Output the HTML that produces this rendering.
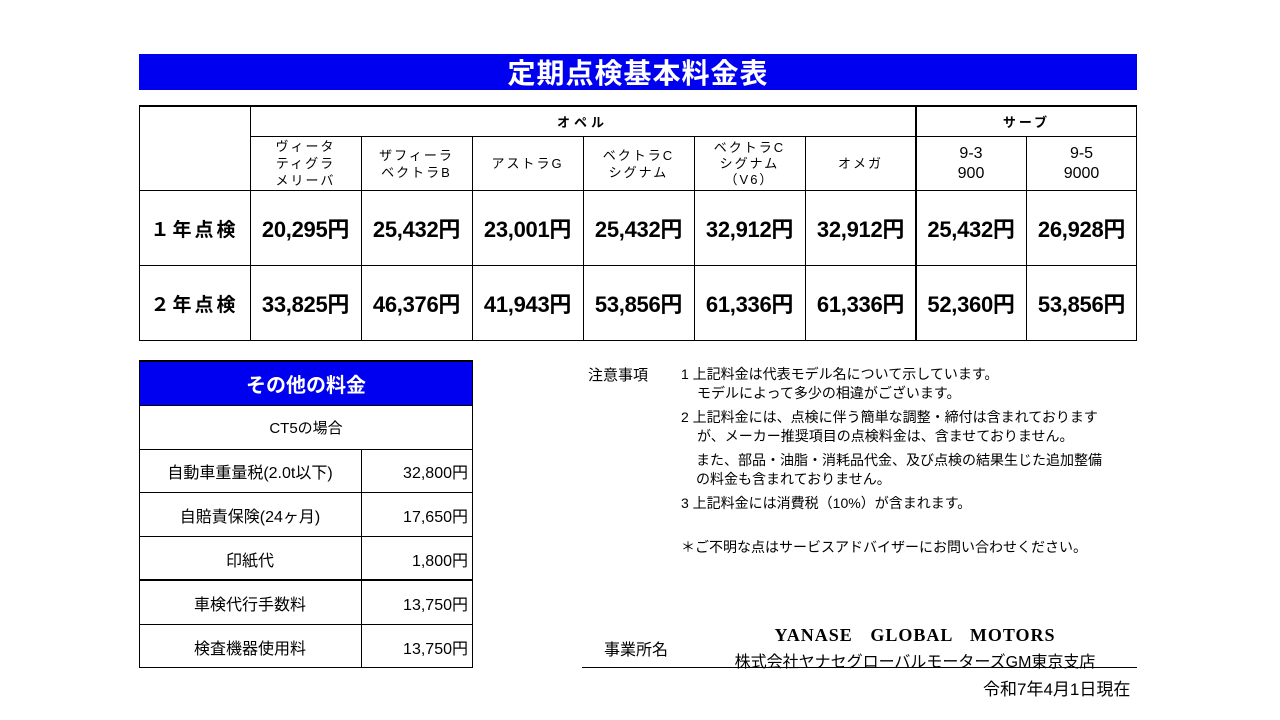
<!DOCTYPE html>
<html><head><meta charset="utf-8"><style>
*{margin:0;padding:0;box-sizing:border-box}
body{width:1280px;height:720px;background:#fff;position:relative;overflow:hidden;font-family:"Liberation Sans","Noto Sans CJK JP",sans-serif;color:#000}
.a{position:absolute}
.c{position:absolute;display:flex;align-items:center;justify-content:center;text-align:center}
.hl{position:absolute;height:1px;background:#000}
.vl{position:absolute;width:1px;background:#000}
.b{font-weight:bold}
.p{font-size:22px;letter-spacing:-0.3px}
.m{font-size:13px;line-height:17px;letter-spacing:2px}
.l{font-size:16px}
</style></head><body>
<div class="c b" style="left:139px;top:54px;width:998px;height:36px;background:#0000f0;color:#fff;font-size:28px;letter-spacing:1px">定期点検基本料金表</div>

<div class="hl" style="left:139px;top:105px;width:998px;height:2px"></div>
<div class="hl" style="left:250px;top:136px;width:887px"></div>
<div class="hl" style="left:139px;top:190px;width:998px"></div>
<div class="hl" style="left:139px;top:265px;width:998px"></div>
<div class="hl" style="left:139px;top:340px;width:998px"></div>
<div class="vl" style="left:139px;top:105px;height:236px"></div>
<div class="vl" style="left:250px;top:105px;height:236px"></div>
<div class="vl" style="left:1136px;top:105px;height:236px"></div>
<div class="vl" style="left:915px;top:105px;height:236px;width:2px"></div>
<div class="vl" style="left:361px;top:136px;height:205px"></div>
<div class="vl" style="left:472px;top:136px;height:205px"></div>
<div class="vl" style="left:583px;top:136px;height:205px"></div>
<div class="vl" style="left:694px;top:136px;height:205px"></div>
<div class="vl" style="left:805px;top:136px;height:205px"></div>
<div class="vl" style="left:1026px;top:136px;height:205px"></div>

<div class="c b" style="left:250px;top:106px;width:665px;height:30px;font-size:13px;letter-spacing:4px">オペル</div>
<div class="c b" style="left:916px;top:106px;width:221px;height:30px;font-size:13px;letter-spacing:3px">サーブ</div>

<div class="c m" style="left:250px;top:137px;width:111px;height:53px">ヴィータ<br>ティグラ<br>メリーバ</div>
<div class="c m" style="left:361px;top:137px;width:111px;height:53px">ザフィーラ<br>ベクトラB</div>
<div class="c m" style="left:472px;top:137px;width:111px;height:53px">アストラG</div>
<div class="c m" style="left:583px;top:137px;width:111px;height:53px">ベクトラC<br>シグナム</div>
<div class="c m" style="left:694px;top:137px;width:111px;height:53px;line-height:16px">ベクトラC<br>シグナム<br>（V6）</div>
<div class="c m" style="left:805px;top:137px;width:111px;height:53px">オメガ</div>
<div class="c" style="left:916px;top:137px;width:110px;height:53px;font-size:16px;line-height:20px">9-3<br>900</div>
<div class="c" style="left:1026px;top:137px;width:111px;height:53px;font-size:16px;line-height:20px">9-5<br>9000</div>

<div class="c b" style="left:139px;top:191px;width:111px;height:74px;font-size:19px;letter-spacing:3px">１年点検</div>
<div class="c b" style="left:139px;top:266px;width:111px;height:74px;font-size:19px;letter-spacing:3px">２年点検</div>

<div class="c b p" style="left:250px;top:191px;width:111px;height:74px">20,295円</div>
<div class="c b p" style="left:361px;top:191px;width:111px;height:74px">25,432円</div>
<div class="c b p" style="left:472px;top:191px;width:111px;height:74px">23,001円</div>
<div class="c b p" style="left:583px;top:191px;width:111px;height:74px">25,432円</div>
<div class="c b p" style="left:694px;top:191px;width:111px;height:74px">32,912円</div>
<div class="c b p" style="left:805px;top:191px;width:111px;height:74px">32,912円</div>
<div class="c b p" style="left:916px;top:191px;width:110px;height:74px">25,432円</div>
<div class="c b p" style="left:1026px;top:191px;width:111px;height:74px">26,928円</div>

<div class="c b p" style="left:250px;top:266px;width:111px;height:74px">33,825円</div>
<div class="c b p" style="left:361px;top:266px;width:111px;height:74px">46,376円</div>
<div class="c b p" style="left:472px;top:266px;width:111px;height:74px">41,943円</div>
<div class="c b p" style="left:583px;top:266px;width:111px;height:74px">53,856円</div>
<div class="c b p" style="left:694px;top:266px;width:111px;height:74px">61,336円</div>
<div class="c b p" style="left:805px;top:266px;width:111px;height:74px">61,336円</div>
<div class="c b p" style="left:916px;top:266px;width:110px;height:74px">52,360円</div>
<div class="c b p" style="left:1026px;top:266px;width:111px;height:74px">53,856円</div>

<div class="hl" style="left:139px;top:360px;width:334px;height:2px"></div>
<div class="c b" style="left:139px;top:362px;width:334px;height:43px;background:#0000f0;color:#fff;font-size:20px">その他の料金</div>
<div class="vl" style="left:139px;top:360px;height:308px"></div>
<div class="vl" style="left:472px;top:360px;height:308px"></div>
<div class="vl" style="left:361px;top:449px;height:219px"></div>
<div class="hl" style="left:139px;top:405px;width:334px"></div>
<div class="hl" style="left:139px;top:449px;width:334px"></div>
<div class="hl" style="left:139px;top:492px;width:334px"></div>
<div class="hl" style="left:139px;top:536px;width:334px"></div>
<div class="hl" style="left:139px;top:579px;width:334px;height:2px"></div>
<div class="hl" style="left:139px;top:624px;width:334px"></div>
<div class="hl" style="left:139px;top:667px;width:334px"></div>
<div class="c" style="left:139px;top:406px;width:334px;height:43px;font-size:15px">CT5の場合</div>
<div class="c l" style="left:139px;top:450px;width:222px;height:42px">自動車重量税(2.0t以下)</div>
<div class="c l" style="left:139px;top:493px;width:222px;height:43px">自賠責保険(24ヶ月)</div>
<div class="c l" style="left:139px;top:537px;width:222px;height:43px">印紙代</div>
<div class="c l" style="left:139px;top:581px;width:222px;height:43px">車検代行手数料</div>
<div class="c l" style="left:139px;top:625px;width:222px;height:43px">検査機器使用料</div>
<div class="c l" style="left:362px;top:450px;width:106px;height:42px;justify-content:flex-end">32,800円</div>
<div class="c l" style="left:362px;top:493px;width:106px;height:43px;justify-content:flex-end">17,650円</div>
<div class="c l" style="left:362px;top:537px;width:106px;height:43px;justify-content:flex-end">1,800円</div>
<div class="c l" style="left:362px;top:581px;width:106px;height:43px;justify-content:flex-end">13,750円</div>
<div class="c l" style="left:362px;top:625px;width:106px;height:43px;justify-content:flex-end">13,750円</div>

<div class="a" style="left:588px;top:364px;font-size:15px">注意事項</div>
<div class="a" style="left:681px;top:365px;font-size:14px;line-height:19px;white-space:nowrap">
1 上記料金は代表モデル名について示しています。<br>
<span style="padding-left:16px">モデルによって多少の相違がございます。</span>
</div>
<div class="a" style="left:681px;top:408px;font-size:14px;line-height:19px;white-space:nowrap">
2 上記料金には、点検に伴う簡単な調整・締付は含まれております<br>
<span style="padding-left:16px">が、メーカー推奨項目の点検料金は、含ませておりません。</span>
</div>
<div class="a" style="left:696px;top:451px;font-size:14px;line-height:19px;white-space:nowrap">
また、部品・油脂・消耗品代金、及び点検の結果生じた追加整備<br>の料金も含まれておりません。
</div>
<div class="a" style="left:681px;top:494px;font-size:14px;line-height:19px;white-space:nowrap">3 上記料金には消費税（10%）が含まれます。</div>
<div class="a" style="left:681px;top:538px;font-size:14px;line-height:19px;white-space:nowrap">＊ご不明な点はサービスアドバイザーにお問い合わせください。</div>

<div class="a" style="left:604px;top:636px;font-size:16px">事業所名</div>
<div class="a b" style="left:760px;top:625px;width:310px;text-align:center;font-family:'Liberation Serif',serif;font-size:18px;letter-spacing:1px;word-spacing:12px;white-space:nowrap">YANASE GLOBAL MOTORS</div>
<div class="a" style="left:700px;top:648px;width:430px;text-align:center;font-size:16px;white-space:nowrap">株式会社ヤナセグローバルモーターズGM東京支店</div>
<div class="hl" style="left:582px;top:667px;width:555px"></div>
<div class="a" style="left:983px;top:675px;font-size:17px;white-space:nowrap">令和7年4月1日現在</div>
</body></html>
